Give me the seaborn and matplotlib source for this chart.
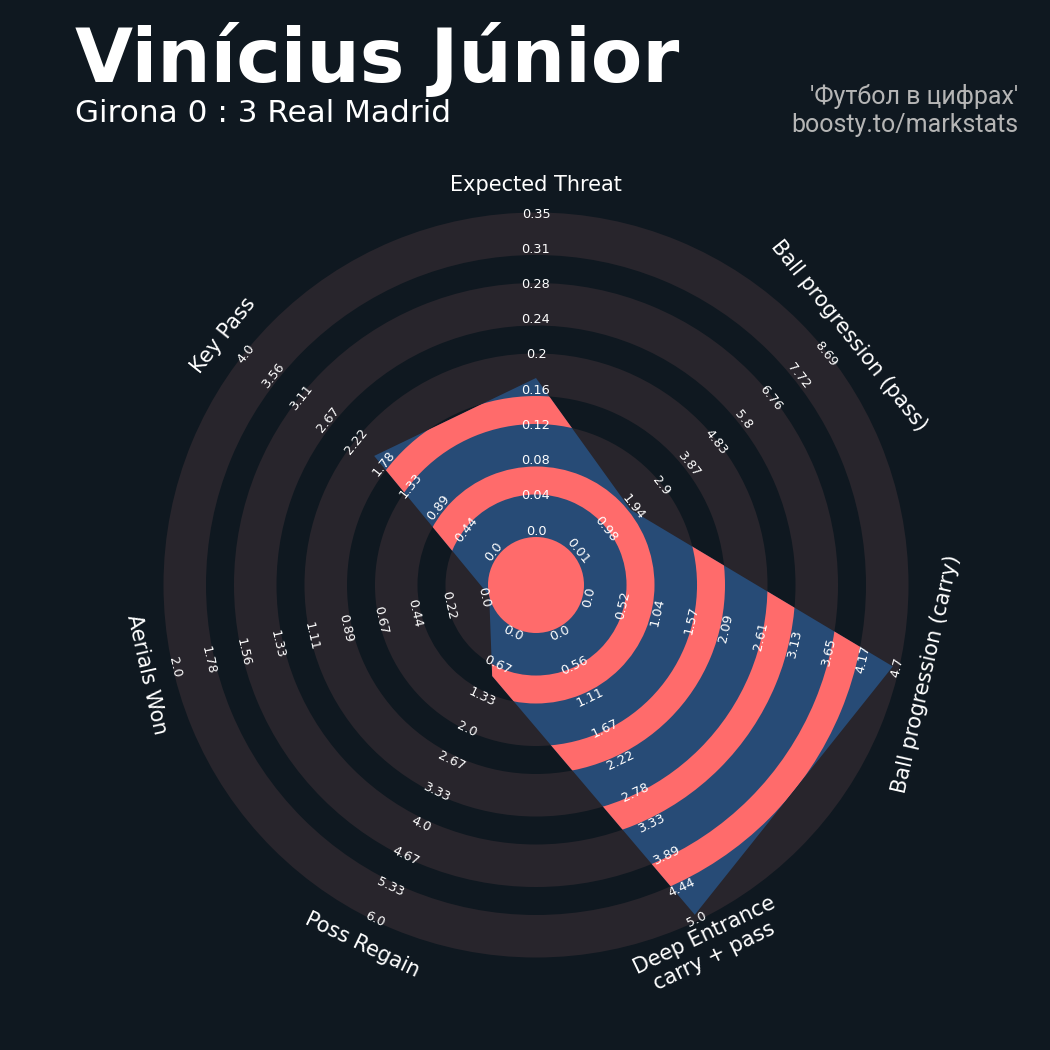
import numpy as np
import matplotlib
matplotlib.use("Agg")
import matplotlib.pyplot as plt
from matplotlib.patches import Wedge, Circle, Polygon
import seaborn as sns

# ---------------- data ----------------
params = ["Expected Threat", "Ball progression (pass)", "Ball progression (carry)",
          "Deep Entrance\ncarry + pass", "Poss Regain", "Aerials Won", "Key Pass"]
low = [0.0, 0.01, 0.0, 0.0, 0.0, 0.0, 0.0]
high = [0.35, 8.69, 4.7, 5.0, 6.0, 2.0, 4.0]
values = [0.175, 2.0, 4.7, 5.0, 1.0, 0.0, 2.0]
tick_labels = [
    ["0.0", "0.04", "0.08", "0.12", "0.16", "0.2", "0.24", "0.28", "0.31", "0.35"],
    ["0.01", "0.98", "1.94", "2.9", "3.87", "4.83", "5.8", "6.76", "7.72", "8.69"],
    ["0.0", "0.52", "1.04", "1.57", "2.09", "2.61", "3.13", "3.65", "4.17", "4.7"],
    ["0.0", "0.56", "1.11", "1.67", "2.22", "2.78", "3.33", "3.89", "4.44", "5.0"],
    ["0.0", "0.67", "1.33", "2.0", "2.67", "3.33", "4.0", "4.67", "5.33", "6.0"],
    ["0.0", "0.22", "0.44", "0.67", "0.89", "1.11", "1.33", "1.56", "1.78", "2.0"],
    ["0.0", "0.44", "0.89", "1.33", "1.78", "2.22", "2.67", "3.11", "3.56", "4.0"],
]
title = "Vinícius Júnior"
subtitle = "Girona 0 : 3 Real Madrid"
credit_lines = ["'Футбол в цифрах'", "boosty.to/markstats"]

# ---------------- style ----------------
BG = "#0f1820"
GRAY = "#28252c"
BLUE = "#274b76"
RED = "#ff6b6b"
TXT = "#ffffff"

sns.set_theme(style="dark", rc={"axes.facecolor": BG, "figure.facecolor": BG})
plt.rcParams["font.family"] = ["DejaVu Sans"]

PX = 37.3                      # pixels per radial unit
R_CENTER = 48 / PX
R_VALMAX = 366 / PX
GRAY_W = 1.14
GAP_W = 0.75
N_RINGS = 5
LABEL_R = np.linspace(54 / PX, 371 / PX, 10)
PARAM_R = 400 / PX

fig = plt.figure(figsize=(10.5, 10.5), dpi=100)
fig.patch.set_facecolor(BG)
L = 12.5
ax = fig.add_axes([(536 - L * PX) / 1050, (465 - L * PX) / 1050,
                   2 * L * PX / 1050, 2 * L * PX / 1050])
ax.set_xlim(-L, L)
ax.set_ylim(-L, L)
ax.set_aspect("equal")
ax.axis("off")

# background rings
gray_bands, gap_bands = [], []
r = R_CENTER
for k in range(N_RINGS):
    gray_bands.append((r, r + GRAY_W))
    r += GRAY_W
    if k < N_RINGS - 1:
        gap_bands.append((r, r + GAP_W))
        r += GAP_W
for r0, r1 in gray_bands:
    ax.add_patch(Wedge((0, 0), r1, 0, 360, width=r1 - r0, facecolor=GRAY,
                       edgecolor="none", zorder=1))
ax.add_patch(Circle((0, 0), R_CENTER, facecolor=GRAY, edgecolor="none", zorder=1))

# radar polygon
n = len(params)
thetas = np.deg2rad(90 - np.arange(n) * 360 / n)
radii = [R_CENTER + (v - lo) / (hi - lo) * (R_VALMAX - R_CENTER)
         for v, lo, hi in zip(values, low, high)]
xs = np.array(radii) * np.cos(thetas)
ys = np.array(radii) * np.sin(thetas)
poly = Polygon(np.column_stack([xs, ys]), closed=True, facecolor=BLUE,
               edgecolor="none", zorder=2)
ax.add_patch(poly)
for r0, r1 in gap_bands:
    w = Wedge((0, 0), r1, 0, 360, width=r1 - r0, facecolor=RED,
              edgecolor="none", zorder=3)
    ax.add_patch(w)
    w.set_clip_path(poly)
ax.add_patch(Circle((0, 0), R_CENTER, facecolor=RED, edgecolor="none", zorder=3))


def label_rot(theta_deg):
    rot = theta_deg - 90
    while rot < -90:
        rot += 180
    while rot > 90:
        rot -= 180
    return rot


for i, th in enumerate(thetas):
    thd = np.rad2deg(th)
    rot = label_rot(thd)
    for j, lab in enumerate(tick_labels[i]):
        rr = LABEL_R[j]
        ax.text(rr * np.cos(th), rr * np.sin(th), lab, rotation=rot,
                rotation_mode="anchor", ha="center", va="center",
                fontsize=9.3, color=TXT, zorder=6)
    ax.text(PARAM_R * np.cos(th), PARAM_R * np.sin(th), params[i], rotation=rot,
            rotation_mode="anchor", ha="center", va="center", multialignment="center",
            fontsize=15, color=TXT, zorder=6)

# titles
fig.text(75 / 1050, 1 - 82 / 1050, title, fontsize=54, fontweight="bold",
         color=TXT, ha="left", va="baseline")
fig.text(75 / 1050, 1 - 122 / 1050, subtitle, fontsize=22.4, color=TXT,
         ha="left", va="baseline")
fig.text(1018 / 1050, 1 - 104 / 1050, credit_lines[0], fontsize=18,
         family=["Roboto", "DejaVu Sans"], color="#b5b5b5", ha="right", va="baseline")
fig.text(1018 / 1050, 1 - 132 / 1050, credit_lines[1], fontsize=18,
         family=["Roboto", "DejaVu Sans"], color="#b5b5b5", ha="right", va="baseline")

fig.savefig("out.png", dpi=100, facecolor=BG)
